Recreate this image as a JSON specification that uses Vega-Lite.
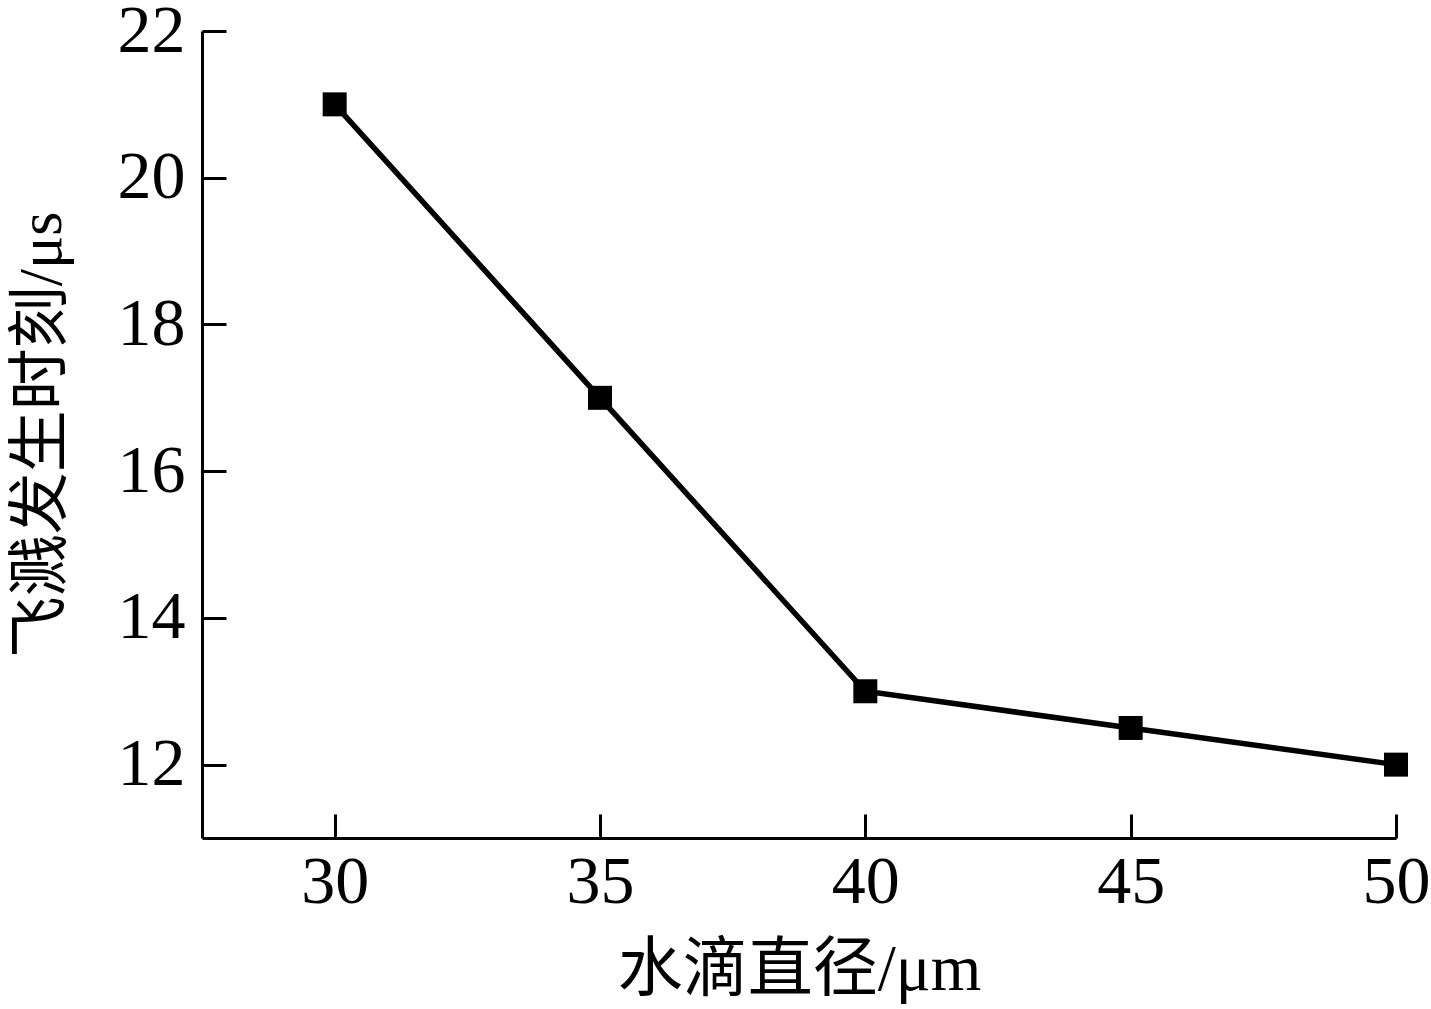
{
  "$schema": "https://vega.github.io/schema/vega-lite/v6.json",
  "width": 1194,
  "height": 807,
  "autosize": {"type": "none"},
  "padding": {"left": 202, "top": 31, "right": 35, "bottom": 171},
  "background": "white",
  "config": {
    "view": {"stroke": null},
    "axis": {
      "domainColor": "black",
      "domainWidth": 3,
      "tickColor": "black",
      "tickWidth": 3,
      "grid": false,
      "labelColor": "black",
      "titleColor": "black",
      "labelFont": "Liberation Serif",
      "titleFont": "Liberation Serif, Noto Sans CJK SC",
      "titleFontWeight": "normal"
    }
  },
  "data": {
    "values": [
      {"d": 30, "t": 21},
      {"d": 35, "t": 17},
      {"d": 40, "t": 13},
      {"d": 45, "t": 12.5},
      {"d": 50, "t": 12}
    ]
  },
  "encoding": {
    "x": {
      "field": "d",
      "type": "quantitative",
      "scale": {"domain": [27.5, 50], "nice": false, "zero": false},
      "axis": {
        "values": [30, 35, 40, 45, 50],
        "title": "水滴直径/μm",
        "tickSize": -24,
        "labelFontSize": 68,
        "labelPadding": 34,
        "labelFlush": false,
        "titleFontSize": 65,
        "titlePadding": 22
      }
    },
    "y": {
      "field": "t",
      "type": "quantitative",
      "scale": {"domain": [11, 22], "nice": false, "zero": false},
      "axis": {
        "values": [12, 14, 16, 18, 20, 22],
        "title": "飞溅发生时刻/μs",
        "tickSize": -24,
        "labelFontSize": 68,
        "labelPadding": 41,
        "labelFlush": false,
        "titleFontSize": 62,
        "titlePadding": 44
      }
    }
  },
  "layer": [
    {"mark": {"type": "line", "color": "black", "strokeWidth": 5.5}},
    {"mark": {"type": "point", "shape": "square", "filled": true, "color": "black", "opacity": 1, "size": 576}}
  ]
}
